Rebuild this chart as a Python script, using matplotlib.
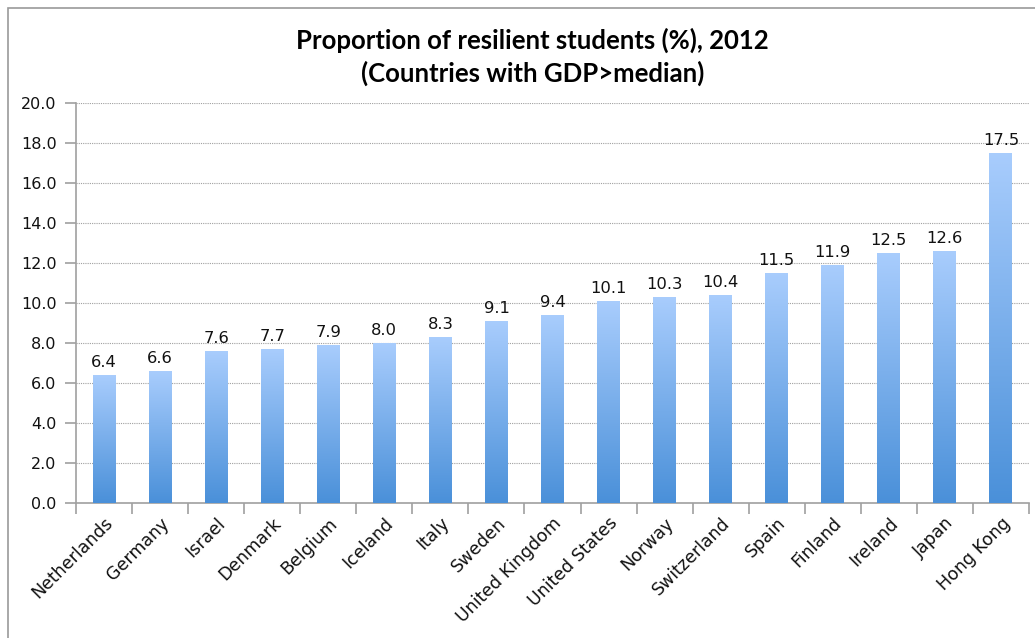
import matplotlib
matplotlib.use("Agg")
import matplotlib.pyplot as plt
import numpy as np
from matplotlib.colors import LinearSegmentedColormap
from matplotlib.patches import Rectangle

countries = ["Netherlands", "Germany", "Israel", "Denmark", "Belgium", "Iceland", "Italy",
             "Sweden", "United Kingdom", "United States", "Norway", "Switzerland", "Spain",
             "Finland", "Ireland", "Japan", "Hong Kong"]
values = [6.4, 6.6, 7.6, 7.7, 7.9, 8.0, 8.3, 9.1, 9.4, 10.1, 10.3, 10.4, 11.5, 11.9, 12.5, 12.6, 17.5]
yticks = [0, 2, 4, 6, 8, 10, 12, 14, 16, 18, 20]

plt.rcParams['font.family'] = ['DejaVu Sans']
W, H = 1035, 638
fig = plt.figure(figsize=(W/100, H/100), dpi=100)
fig.patches.append(Rectangle((8/W, -0.1), 1.2, 1 - 8/H + 0.1, transform=fig.transFigure,
                             fill=False, edgecolor='#9a9a9a', linewidth=1.2))

ax = fig.add_axes([76/W, 1 - 503/H, (1029-76)/W, 400/H])
x = np.arange(len(countries))
bars = ax.bar(x, values, width=0.41, color='none', edgecolor='none', zorder=3)
cmap = LinearSegmentedColormap.from_list('g', ['#4a90d9', '#a9cdfd'])
grad = np.linspace(0, 1, 256).reshape(-1, 1)
for b in bars:
    x0, y0 = b.get_x(), b.get_y()
    w, h = b.get_width(), b.get_height()
    im = ax.imshow(grad, extent=(x0, x0 + w, y0, y0 + h), origin='lower', cmap=cmap,
                   aspect='auto', zorder=3, interpolation='bicubic')
    im.set_clip_path(b)
for xi, v in zip(x, values):
    ax.text(xi, v + 0.25, f"{v:.1f}", ha='center', va='bottom', fontsize=11.8, color='#111111')

ax.set_xlim(-0.5, len(countries) - 0.5)
ax.set_ylim(0, 20)
ax.set_yticks(yticks)
ax.set_yticklabels([f"{t:.1f}" for t in yticks], fontsize=11.5, color='#111111')
ax.yaxis.grid(True, linestyle=(0, (1, 1)), color='#a0a0a0', linewidth=0.8, zorder=0)
ax.set_axisbelow(True)

ax.set_xticks(x)
ax.set_xticklabels(countries, rotation=45, ha='right', rotation_mode='anchor', fontsize=12.5,
                   color='#111111')
ax.tick_params(axis='x', length=0, pad=8)
ax.set_xticks(np.arange(len(countries) + 1) - 0.5, minor=True)
ax.tick_params(axis='x', which='minor', length=8, color='#a0a0a0', width=1.2)
ax.tick_params(axis='y', length=8, color='#a0a0a0', width=1.2, pad=6)

for s in ['top', 'right']:
    ax.spines[s].set_visible(False)
for s in ['left', 'bottom']:
    ax.spines[s].set_color('#a0a0a0')
    ax.spines[s].set_linewidth(1.2)

fig.text(0.5 + 15/W, 1 - 40/H, "Proportion of resilient students (%), 2012", ha='center', va='center',
         fontsize=18.5, fontweight='bold', family=['Lato', 'DejaVu Sans'])
fig.text(0.5 + 15/W, 1 - 73/H, "(Countries with GDP>median)", ha='center', va='center',
         fontsize=18.5, fontweight='bold', family=['Lato', 'DejaVu Sans'])

fig.savefig("out.png", dpi=100)
